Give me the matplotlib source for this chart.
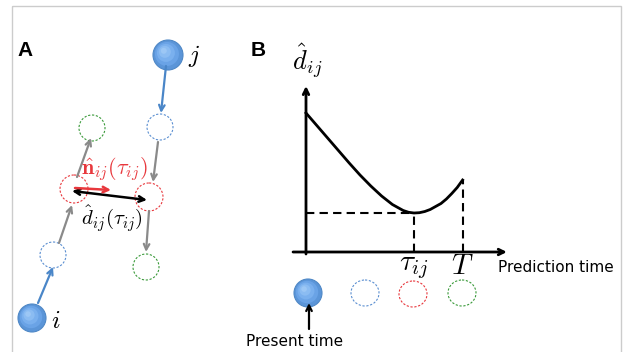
import matplotlib.pyplot as plt
from matplotlib.patches import Circle, Ellipse, Rectangle

plt.rcParams['mathtext.fontset'] = 'cm'

# panel B curve: predicted distance vs prediction time (tau_ij = 1)
pred_time = [0.0, 0.1, 0.2, 0.3, 0.4, 0.5, 0.6, 0.7, 0.8, 0.9, 0.95, 1.0,
             1.05, 1.1, 1.15, 1.2, 1.25, 1.3, 1.35, 1.4, 1.45]
pred_dist = [1.39, 1.265, 1.14, 1.015, 0.89, 0.77, 0.66, 0.56, 0.475, 0.415, 0.397, 0.39,
             0.393, 0.405, 0.425, 0.455, 0.485, 0.53, 0.585, 0.645, 0.72]
tau_ij = 1.0
t_end = 1.45

BLUE = '#4a86c8'
GRAY = '#8a8a8a'
RED = '#e8383d'
GREEN = '#3a9a3a'
DBLUE = '#5b8fd1'


def ball(ax, x, y, r):
    ax.add_patch(Circle((x, y), r, facecolor='#5b95d8', edgecolor='#4f88c6', lw=0.8))
    for k, c in enumerate(['#6aa3e6', '#7ab0ee', '#8bbcf2', '#9cc7f5']):
        f = 1 - 0.2 * (k + 1)
        ax.add_patch(Circle((x - (1 - f) * r * 0.35, y - (1 - f) * r * 0.35), r * f,
                            facecolor=c, edgecolor='none'))


def ghost(ax, x, y, color, rx=13, ry=13):
    ax.add_patch(Ellipse((x, y), 2 * rx, 2 * ry, fill=False, edgecolor=color,
                         lw=0.8, linestyle=(0, (2, 1.5))))


def arrow(ax, p0, p1, color, lw=1.6, style='->', ms=10):
    ax.annotate('', xy=p1, xytext=p0,
                arrowprops=dict(arrowstyle=style, color=color, lw=lw,
                                shrinkA=0, shrinkB=0, mutation_scale=ms))


fig = plt.figure(figsize=(6.25, 3.52), dpi=100)
ax = fig.add_axes([0, 0, 1, 1])
ax.set_xlim(0, 625)
ax.set_ylim(352, 0)
ax.axis('off')

ax.add_patch(Rectangle((11.5, 5.5), 609.5, 360, fill=False, edgecolor='#cccccc', lw=1))

# ---- panel A
ax.text(25, 50, 'A', fontsize=15, fontweight='bold', family='Liberation Sans',
        ha='center', va='center')

ball(ax, 168, 55, 15)
ax.text(194, 56, '$j$', fontsize=18, ha='center', va='center')
ball(ax, 32, 318, 14)
ax.text(56, 321, '$i$', fontsize=18, ha='center', va='center')

ghost(ax, 53, 255, DBLUE)
ghost(ax, 74, 189, RED, 14, 14)
ghost(ax, 92, 128, GREEN)
ghost(ax, 160, 127, DBLUE)
ghost(ax, 149, 197, RED, 14, 14)
ghost(ax, 146, 267, GREEN)

arrow(ax, (38, 303), (53, 267), BLUE)
arrow(ax, (59, 243), (72, 205), GRAY)
arrow(ax, (77, 177), (91, 138), GRAY)
arrow(ax, (166, 66), (161, 113), BLUE)
arrow(ax, (158, 142), (153, 182), GRAY)
arrow(ax, (149, 211), (146, 252), GRAY)

arrow(ax, (72, 191), (147, 200), 'black', lw=1.8, style='<->')
arrow(ax, (75, 188), (111, 190), RED, lw=1.8)

ax.text(114, 169, r'$\hat{\mathbf{n}}_{ij}(\tau_{ij})$', color=RED, fontsize=16,
        ha='center', va='center')
ax.text(112, 219, r'$\hat{d}_{ij}(\tau_{ij})$', fontsize=15, ha='center', va='center')

# ---- panel B
ax.text(258, 50, 'B', fontsize=15, fontweight='bold', family='Liberation Sans',
        ha='center', va='center')
ax.text(307, 61, r'$\hat{d}_{ij}$', fontsize=19, ha='center', va='center')

ball(ax, 308, 293, 14)
ghost(ax, 365, 293, DBLUE, 14, 13)
ghost(ax, 413, 294, RED, 14, 13)
ghost(ax, 462, 293, GREEN, 14, 13)
arrow(ax, (309, 329), (309, 303), 'black', lw=1.6)
ax.text(295, 342, 'Present time', fontsize=11, ha='center', va='center')

bx = fig.add_axes([273.6 / 625, (352 - 272) / 352, 248.4 / 625, 210 / 352])
bx.set_xlim(-0.3, 2.0)
bx.set_ylim(-0.2, 1.9)
bx.axis('off')
bx.patch.set_alpha(0)

arrow(bx, (-0.12, 0), (1.86, 0), 'black', lw=2)
arrow(bx, (0, -0.02), (0, 1.66), 'black', lw=2)
bx.plot(pred_time, pred_dist, color='black', lw=2, solid_joinstyle='round')
d_min = min(pred_dist)
d_end = pred_dist[-1]
bx.plot([0, tau_ij], [d_min, d_min], color='black', lw=1.5, ls=(0, (4, 2.5)))
bx.plot([tau_ij, tau_ij], [0, d_min], color='black', lw=1.5, ls=(0, (4, 2.5)))
bx.plot([t_end, t_end], [0, d_end], color='black', lw=1.5, ls=(0, (4, 2.5)))
bx.text(tau_ij, -0.15, r'$\tau_{ij}$', fontsize=21, ha='center', va='center')
bx.text(t_end, -0.14, '$T$', fontsize=21, ha='center', va='center')
bx.text(1.78, -0.15, 'Prediction time', fontsize=11, ha='left', va='center')

fig.savefig('out.png', dpi=100)
